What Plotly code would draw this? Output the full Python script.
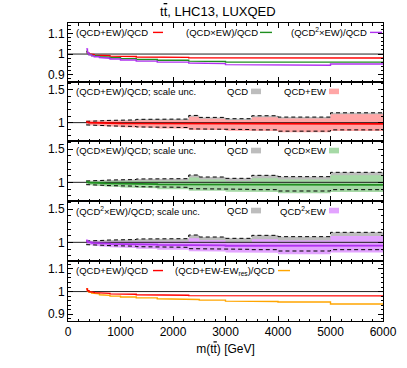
import plotly.graph_objects as go
from plotly.subplots import make_subplots

# ---------------- data ----------------
edges = [346, 370, 400, 450, 500, 600, 700, 800, 1000, 1300, 1700, 2300, 2500, 3000, 3500, 4000, 5000, 6000]

r_add = [1.012, 1.004, 1.000, 0.997, 0.995, 0.993, 0.992, 0.990, 0.988, 0.986, 0.984, 0.982, 0.981, 0.980, 0.980, 0.979, 0.981]
r_mult = [1.012, 1.002, 0.997, 0.993, 0.990, 0.987, 0.985, 0.982, 0.978, 0.974, 0.970, 0.966, 0.964, 0.961, 0.960, 0.960, 0.961]
r_mult2 = [1.025, 1.005, 0.996, 0.991, 0.987, 0.983, 0.980, 0.976, 0.971, 0.966, 0.961, 0.957, 0.954, 0.949, 0.948, 0.946, 0.952]
r_nores = [1.012, 1.003, 0.997, 0.993, 0.990, 0.986, 0.983, 0.980, 0.976, 0.972, 0.968, 0.965, 0.962, 0.958, 0.956, 0.954, 0.945]

qcd_up = [1.020, 1.020, 1.022, 1.025, 1.028, 1.030, 1.033, 1.037, 1.042, 1.050, 1.055, 1.110, 1.080, 1.060, 1.105, 1.085, 1.150]
qcd_dn = [0.965, 0.965, 0.963, 0.960, 0.958, 0.955, 0.952, 0.948, 0.942, 0.935, 0.925, 0.905, 0.905, 0.895, 0.890, 0.870, 0.890]

add_up = [1.032, 1.024, 1.022, 1.022, 1.023, 1.023, 1.025, 1.027, 1.029, 1.035, 1.038, 1.090, 1.059, 1.039, 1.083, 1.062, 1.128]
add_dn = [0.977, 0.969, 0.963, 0.957, 0.953, 0.948, 0.944, 0.939, 0.931, 0.922, 0.910, 0.889, 0.888, 0.877, 0.872, 0.852, 0.873]

mult_up = [1.032, 1.022, 1.019, 1.018, 1.018, 1.017, 1.018, 1.018, 1.019, 1.023, 1.023, 1.072, 1.041, 1.019, 1.061, 1.042, 1.105]
mult_dn = [0.977, 0.967, 0.960, 0.953, 0.948, 0.943, 0.938, 0.931, 0.921, 0.911, 0.897, 0.874, 0.872, 0.860, 0.854, 0.835, 0.855]

mult2_up = [1.046, 1.025, 1.018, 1.016, 1.015, 1.012, 1.012, 1.012, 1.012, 1.014, 1.014, 1.062, 1.030, 1.006, 1.048, 1.026, 1.095]
mult2_dn = [0.989, 0.970, 0.959, 0.951, 0.946, 0.939, 0.933, 0.925, 0.915, 0.903, 0.889, 0.866, 0.863, 0.849, 0.844, 0.823, 0.847]

x_range = [0, 6000]
x_ticks = [0, 1000, 2000, 3000, 4000, 5000, 6000]

# ---------------- styles ----------------
RED = "#ff0000"
GREEN = "#1f8f1f"
MAG = "#b030f0"
ORANGE = "#ffa500"
GRAY_F = "#bdbdbd"
RED_F = "#ffa6a6"
GREEN_F = "#a6d9a6"
MAG_F = "#e3a3ff"
FONT = "Liberation Sans, Arial, Helvetica, sans-serif"
TTBAR = "t<span style='text-decoration:overline'>t</span>"

W, H = 407, 368
L, R, T, B = 68, 24, 23, 47
panel_px = [(23, 82), (82, 141), (141, 201), (201, 261), (261, 321)]


def dom(p):
    top, bot = p
    return [(321 - bot) / 298.0, (321 - top) / 298.0]


def step(e, v):
    xs, ys = [], []
    for i in range(len(v)):
        xs += [e[i], e[i + 1]]
        ys += [v[i], v[i]]
    return xs, ys


fig = make_subplots(rows=5, cols=1, shared_xaxes=True, vertical_spacing=0)


def add_line(row, vals, color, width=1.4, dash="solid"):
    xs, ys = step(edges, vals)
    fig.add_trace(go.Scatter(x=xs, y=ys, mode="lines", line=dict(color=color, width=width, dash=dash),
                             hoverinfo="skip", showlegend=False), row=row, col=1)


def add_band(row, up, dn, color):
    xu, yu = step(edges, up)
    xd, yd = step(edges, dn)
    fig.add_trace(go.Scatter(x=xu + xd[::-1], y=yu + yd[::-1], mode="lines", fill="toself",
                             fillcolor=color, line=dict(width=0, color=color),
                             hoverinfo="skip", showlegend=False), row=row, col=1)


def add_one(row):
    fig.add_trace(go.Scatter(x=x_range, y=[1, 1], mode="lines", line=dict(color="#222222", width=1),
                             hoverinfo="skip", showlegend=False), row=row, col=1)


# panel 1
add_one(1)
add_line(1, r_add, RED)
add_line(1, r_mult, GREEN)
add_line(1, r_mult2, MAG)

# panels 2-4
for row, (up, dn, fc, lc, cen) in zip([2, 3, 4], [
        (add_up, add_dn, RED_F, RED, r_add),
        (mult_up, mult_dn, GREEN_F, GREEN, r_mult),
        (mult2_up, mult2_dn, MAG_F, MAG, r_mult2)]):
    add_band(row, qcd_up, qcd_dn, GRAY_F)
    add_band(row, up, dn, fc)
    add_line(row, qcd_up, "#000000", width=1, dash="4px,3px")
    add_line(row, qcd_dn, "#000000", width=1, dash="4px,3px")
    add_one(row)
    add_line(row, cen, lc, width=1.8)

# panel 5
add_one(5)
add_line(5, r_nores, ORANGE)
add_line(5, r_add, RED)

yranges = [[0.865, 1.15], [0.72, 1.62], [0.72, 1.62], [0.72, 1.62], [0.87, 1.135]]
ydticks = [0.1, 0.5, 0.5, 0.5, 0.1]
yminor = [0.02, 0.1, 0.1, 0.1, 0.02]

axis_common = dict(showline=True, linecolor="black", linewidth=1, mirror="allticks",
                   ticks="inside", ticklen=5, tickcolor="black", tickwidth=1,
                   showgrid=False, zeroline=False, automargin=False,
                   tickfont=dict(family=FONT, size=12, color="black"))

for i in range(5):
    n = "" if i == 0 else str(i + 1)
    fig.layout["yaxis" + n].update(domain=dom(panel_px[i]), range=yranges[i], dtick=ydticks[i],
                                   tick0=1, minor=dict(dtick=yminor[i], tick0=1, ticks="inside", ticklen=2.5,
                                                       tickcolor="black", showgrid=False),
                                   **axis_common)
    fig.layout["xaxis" + n].update(range=x_range, tickvals=x_ticks, showticklabels=(i == 4),
                                   minor=dict(dtick=200, tick0=0, ticks="inside", ticklen=2.5,
                                              tickcolor="black", showgrid=False),
                                   **axis_common)

fig.layout["xaxis5"].update(title=dict(text="m(" + TTBAR + ") [GeV]",
                                       font=dict(family=FONT, size=12, color="black"), standoff=6))


# ---------------- in-panel labels ----------------
def fx(px):
    return (px - L) / 315.0


YL = 1 - 9.5 / 59.6
LBL = 9.5


def add_text(row, px, text):
    n = "" if row == 1 else str(row)
    fig.add_annotation(xref="x" + n + " domain", yref="y" + n + " domain", x=fx(px),
                       y=YL, text=text, showarrow=False, xanchor="left", yanchor="middle",
                       font=dict(family=FONT, size=LBL, color="black"))


def add_sample_line(row, x0, x1, color):
    n = "" if row == 1 else str(row)
    fig.add_shape(type="line", xref="x" + n + " domain", yref="y" + n + " domain",
                  x0=fx(x0), x1=fx(x1), y0=YL, y1=YL,
                  line=dict(color=color, width=1.4))


def add_sample_box(row, x0, x1, color):
    n = "" if row == 1 else str(row)
    fig.add_shape(type="rect", xref="x" + n + " domain", yref="y" + n + " domain",
                  x0=fx(x0), x1=fx(x1), y0=YL - 2.8 / 59.6, y1=YL + 2.8 / 59.6,
                  line=dict(width=0), fillcolor=color)


add_text(1, 74, "(QCD+EW)/QCD")
add_sample_line(1, 153, 163, RED)
add_text(1, 184, "(QCD×EW)/QCD")
add_sample_line(1, 260, 272, GREEN)
add_text(1, 289, "(QCD<sup>2</sup>×EW)/QCD")
add_sample_line(1, 370, 382, MAG)

labels = [("(QCD+EW)/QCD; scale unc.", "QCD+EW", RED_F, 282),
          ("(QCD×EW)/QCD; scale unc.", "QCD×EW", GREEN_F, 282),
          ("(QCD<sup>2</sup>×EW)/QCD; scale unc.", "QCD<sup>2</sup>×EW", MAG_F, 278)]
for row, (t1, t2, c, x2) in zip([2, 3, 4], labels):
    add_text(row, 74, t1)
    add_text(row, 225, "QCD")
    add_sample_box(row, 251, 261, GRAY_F)
    add_text(row, x2, t2)
    add_sample_box(row, 329, 339, c)

add_text(5, 74, "(QCD+EW)/QCD")
add_sample_line(5, 153, 163, RED)
add_text(5, 173, "(QCD+EW-EW<sub>res</sub>)/QCD")
add_sample_line(5, 278, 290, ORANGE)

# title
fig.add_annotation(xref="paper", yref="paper", x=(218 - L) / 315.0, y=1 + (23 - 12) / 298.0,
                   text=TTBAR + ", LHC13, LUXQED", showarrow=False, xanchor="center", yanchor="middle",
                   font=dict(family=FONT, size=13, color="black"))

fig.update_layout(width=W, height=H, margin=dict(l=L, r=R, t=T, b=B),
                  paper_bgcolor="white", plot_bgcolor="white", showlegend=False)

fig.write_html("out.html", config={"displayModeBar": False},
               post_script="document.body.style.margin='0px';")
